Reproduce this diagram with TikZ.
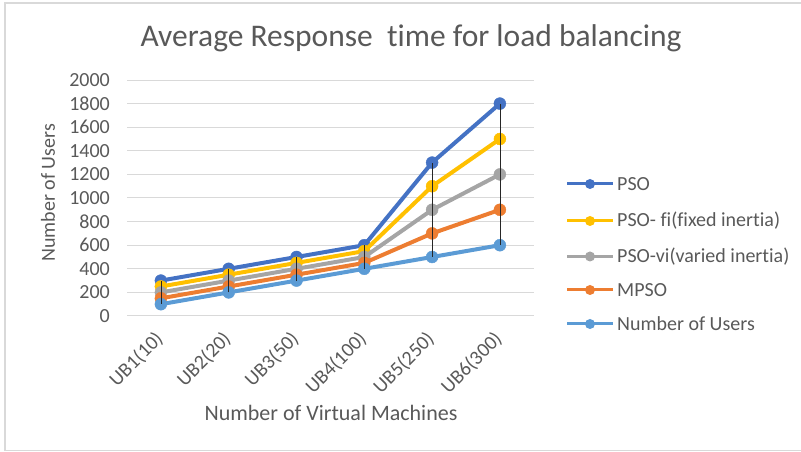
\documentclass[tikz,border=0pt]{standalone}
\usepackage{fontspec}
\setmainfont{Carlito}[Ligatures=NoCommon]
\usetikzlibrary{positioning}
\definecolor{txtgray}{HTML}{595959}
\definecolor{gridgray}{HTML}{D9D9D9}
\definecolor{psoblue}{HTML}{4472C4}
\definecolor{fiyellow}{HTML}{FFC000}
\definecolor{vigray}{HTML}{A5A5A5}
\definecolor{mpsoorange}{HTML}{ED7D31}
\definecolor{userblue}{HTML}{5B9BD5}
\tikzset{series/.style={line width=4pt, line join=round,
    mark=*, mark size=6pt, mark options={line width=0.4pt}},
  legline/.style={line width=3pt},
  gridln/.style={draw=gridgray, line width=1pt},
  hilo/.style={draw=black!85, line width=0.8pt},
  lab/.style={inner sep=0pt, text=txtgray, font=\fontsize{20}{24}\selectfont}}

\begin{document}
\begin{tikzpicture}[x=1pt, y=1pt]
  \useasboundingbox (0,0) rectangle (801,452);
  % frame (open on the right)
  \draw[gridgray, line width=1.8pt] (801,449) -- (5,449) -- (5,1.5) -- (801,1.5);
  \node[lab, font=\fontsize{31.5}{36}\selectfont, anchor=base] (ttl) at (411,405)
    {Average Response\ \ time for load balancing};
  \node[lab, rotate=90] (ylab) at (48,259) {Number of Users};
  \node[lab, font=\fontsize{22}{26}\selectfont, anchor=base] (xlab) at (331,31)
    {Number of Virtual Machines};

  \begin{scope}[xshift=127pt, yshift=136pt, x=67.8pt, y=0.118pt]
    % value grid and ticks
    \foreach \v in {0,200,...,2000} {
      \draw[gridln] (0,\v) -- (6,\v);
      \node[lab, anchor=east, xshift=-17pt] (t\v) at (0,\v) {\v};
    }
    % category labels
    \foreach \c/\t in {1/UB1(10),2/UB2(20),3/UB3(50),4/UB4(100),5/UB5(250),6/UB6(300)}
      \node[lab, xshift=-1pt, yshift=-20pt, anchor=east, rotate=45] (c\c) at (\c-0.5,0) {\t};
    % series
    \draw[series, psoblue] plot coordinates
      {(0.5,300) (1.5,400) (2.5,500) (3.5,600) (4.5,1300) (5.5,1800)};
    \draw[series, fiyellow] plot coordinates
      {(0.5,250) (1.5,350) (2.5,450) (3.5,550) (4.5,1100) (5.5,1500)};
    \draw[series, vigray] plot coordinates
      {(0.5,200) (1.5,300) (2.5,400) (3.5,500) (4.5,900) (5.5,1200)};
    \draw[series, mpsoorange] plot coordinates
      {(0.5,150) (1.5,250) (2.5,350) (3.5,450) (4.5,700) (5.5,900)};
    \draw[series, userblue] plot coordinates
      {(0.5,100) (1.5,200) (2.5,300) (3.5,400) (4.5,500) (5.5,600)};
    % high-low lines
    \draw[hilo] (0.5,100) -- (0.5,300);
    \draw[hilo] (1.5,200) -- (1.5,400);
    \draw[hilo] (2.5,300) -- (2.5,500);
    \draw[hilo] (3.5,400) -- (3.5,600);
    \draw[hilo] (4.5,500) -- (4.5,1300);
    \draw[hilo] (5.5,600) -- (5.5,1800);
  \end{scope}

  % legend
  \draw[legline, psoblue] (567,268) -- (613,268);
  \fill[psoblue] (590,268) circle (5pt);
  \node[lab, anchor=west] (l1) at (617,268) {PSO};
  \draw[legline, fiyellow] (567,231) -- (613,231);
  \fill[fiyellow] (590,231) circle (5pt);
  \node[lab, anchor=west] (l2) at (617,231) {PSO- fi(fixed inertia)};
  \draw[legline, vigray] (567,195.5) -- (613,195.5);
  \fill[vigray] (590,195.5) circle (5pt);
  \node[lab, anchor=west] (l3) at (617,195.5) {PSO-vi(varied inertia)};
  \draw[legline, mpsoorange] (567,162) -- (613,162);
  \fill[mpsoorange] (590,162) circle (5pt);
  \node[lab, anchor=west] (l4) at (617,162) {MPSO};
  \draw[legline, userblue] (567,128) -- (613,128);
  \fill[userblue] (590,128) circle (5pt);
  \node[lab, anchor=west] (l5) at (617,128) {Number of Users};
\end{tikzpicture}
\end{document}
